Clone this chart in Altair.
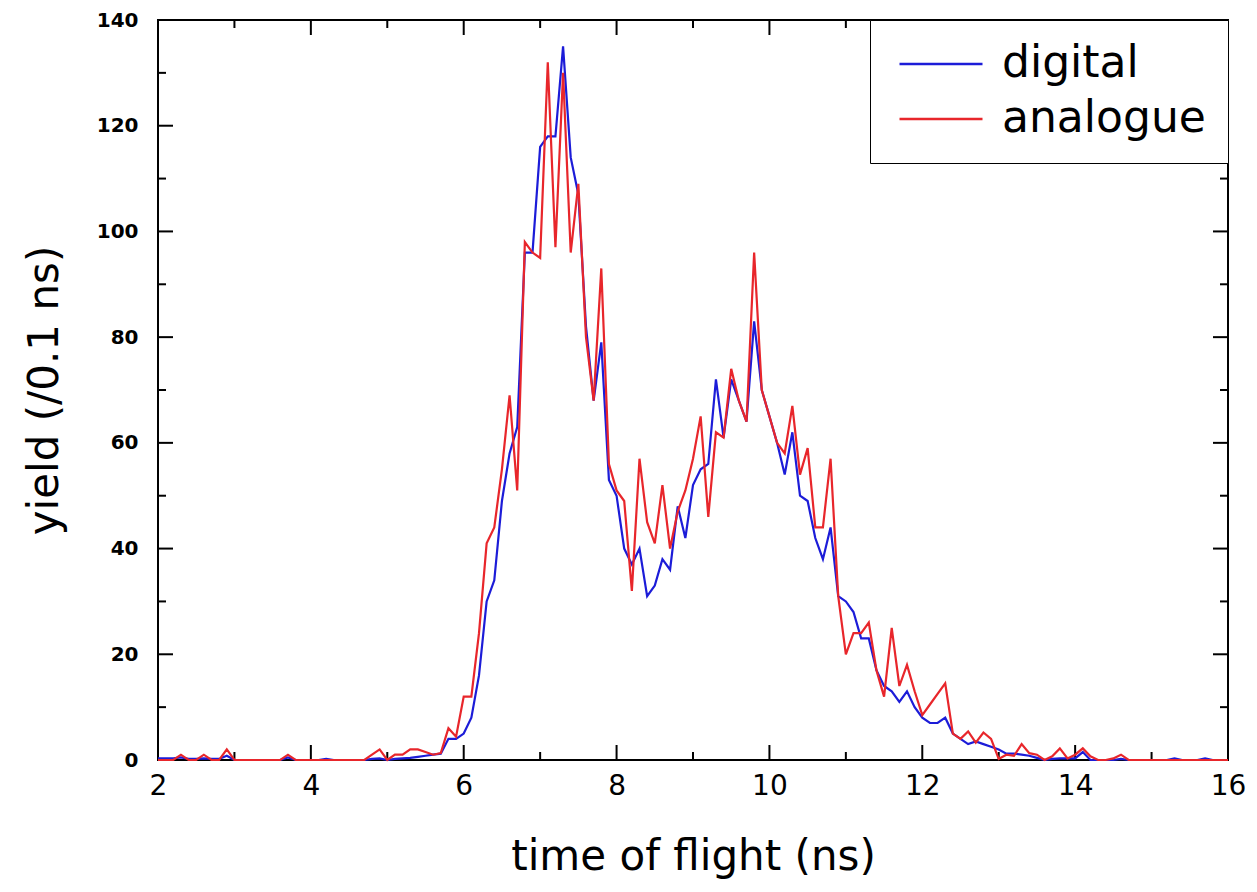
import altair as alt
import pandas as pd

# time bins (ns), 0.1 ns wide
t = [round(2 + 0.1 * i, 1) for i in range(141)]

digital = [
    0.3, 0.3, 0.3, 0.5, 0.2, 0.2, 0.3, 0.2, 0.2, 0.8,
    0, 0, 0, 0, 0, 0, 0, 0.5, 0, 0,
    0, 0, 0.2, 0, 0, 0, 0, 0, 0.2, 0.3,
    0, 0.2, 0.3, 0.4, 0.6, 0.8, 1.0, 1.2, 4, 4,
    5, 8, 16, 30, 34, 49, 58, 63, 96, 96,
    116, 118, 118, 135, 114, 107, 82, 68, 79, 53,
    50, 40, 37, 40, 31, 33, 38, 36, 48, 42,
    52, 55, 56, 72, 61, 72, 68, 64, 83, 70,
    65, 60, 54, 62, 50, 49, 42, 38, 44, 31,
    30, 28, 23, 23, 17, 14, 13, 11, 13, 10,
    8, 7, 7, 8, 5, 4, 3, 3.5, 3, 2.5,
    2, 1.2, 1.2, 1, 0.8, 0.4, 0, 0.2, 0.3, 0.3,
    0.3, 1.5, 0, 0, 0, 0, 0.2, 0, 0, 0,
    0, 0, 0, 0.3, 0, 0, 0, 0.3, 0, 0,
    0,
]

analogue = [
    0, 0, 0, 1, 0, 0, 1, 0, 0, 2,
    0, 0, 0, 0, 0, 0, 0, 1, 0, 0,
    0, 0, 0, 0, 0, 0, 0, 0, 1, 2,
    0, 1, 1, 2, 2, 1.5, 1, 1.3, 6, 4.4,
    12, 12, 24, 41, 44, 55, 69, 51, 98, 96,
    95, 132, 97, 130, 96, 109, 80, 68, 93, 56,
    51, 49, 32, 57, 45, 41, 52, 40, 47, 51,
    57, 65, 46, 62, 61, 74, 68, 64, 96, 70,
    65, 60, 58, 67, 54, 59, 44, 44, 57, 31,
    20, 24, 24, 26, 17, 12, 25, 14, 18, 13,
    8.5, 10.5, 12.5, 14.5, 5, 4, 5.4, 3.3, 5.2, 4,
    0.2, 1, 0.8, 3, 1.3, 1, 0, 0.7, 2.2, 0.3,
    1, 2.2, 0.7, 0, 0, 0.3, 1, 0, 0, 0,
    0, 0, 0, 0, 0, 0, 0, 0, 0, 0,
    0,
]

series_names = ["digital", "analogue"]
series_colors = ["#1c1cd8", "#e8262b"]

x_major = [2, 4, 6, 8, 10, 12, 14, 16]
x_minor = [3, 5, 7, 9, 11, 13, 15]
y_major = [0, 20, 40, 60, 80, 100, 120, 140]
y_minor = [10, 30, 50, 70, 90, 110, 130]

W, H = 1070, 740
MAJ, MIN = 15, 8
FONT = "DejaVu Sans"

df_d = pd.DataFrame({"t": t, "yield": digital, "series": "digital"})
df_a = pd.DataFrame({"t": t, "yield": analogue, "series": "analogue"})

xscale = alt.Scale(domain=[2, 16], nice=False, zero=False)
yscale = alt.Scale(domain=[0, 140], nice=False)

xaxis = alt.Axis(values=x_major, labelFontSize=28, labelFont=FONT, labelPadding=12,
                 labelFlush=False, titleFontSize=42, titleFont=FONT,
                 titleFontWeight="normal", titlePadding=36, domain=False,
                 ticks=False, grid=False, labelColor="black", titleColor="black")
yaxis = alt.Axis(values=y_major, labelFontSize=20, labelFont=FONT,
                 labelFontWeight="bold", labelPadding=20, labelFlush=False,
                 titleFontSize=42, titleFont=FONT, titleFontWeight="normal",
                 titlePadding=30, domain=False, ticks=False, grid=False,
                 labelColor="black", titleColor="black")


def X(field):
    return alt.X(field + ":Q", scale=xscale, axis=xaxis, title="time of flight (ns)")


def Y(field):
    return alt.Y(field + ":Q", scale=yscale, axis=yaxis, title="yield (/0.1 ns)")


color = alt.Color(
    "series:N",
    scale=alt.Scale(domain=series_names, range=series_colors),
    legend=alt.Legend(
        title=None, orient="top-right", offset=0, strokeColor="black",
        fillColor="white", padding=22, symbolType="stroke", symbolSize=6889,
        symbolStrokeWidth=2.5, symbolOffset=6, labelFontSize=44, labelFont=FONT,
        labelOffset=18, rowPadding=11, clipHeight=44, labelColor="black",
        labelLimit=600,
    ),
)

line_d = alt.Chart(df_d).mark_line(strokeWidth=2.2).encode(x=X("t"), y=Y("yield"), color=color)
line_a = alt.Chart(df_a).mark_line(strokeWidth=2.2).encode(x=X("t"), y=Y("yield"), color=color)

xmaj = pd.DataFrame({"t": x_major})
xmin = pd.DataFrame({"t": x_minor})
ymaj = pd.DataFrame({"yield": y_major})
ymin = pd.DataFrame({"yield": y_minor})

rule = dict(color="black", strokeWidth=2)
ticks = [
    alt.Chart(xmaj).mark_rule(**rule).encode(x=X("t"), y=alt.value(H), y2=alt.value(H - MAJ)),
    alt.Chart(xmin).mark_rule(**rule).encode(x=X("t"), y=alt.value(H), y2=alt.value(H - MIN)),
    alt.Chart(xmaj).mark_rule(**rule).encode(x=X("t"), y=alt.value(0), y2=alt.value(MAJ)),
    alt.Chart(xmin).mark_rule(**rule).encode(x=X("t"), y=alt.value(0), y2=alt.value(MIN)),
    alt.Chart(ymaj).mark_rule(**rule).encode(y=Y("yield"), x=alt.value(0), x2=alt.value(MAJ)),
    alt.Chart(ymin).mark_rule(**rule).encode(y=Y("yield"), x=alt.value(0), x2=alt.value(MIN)),
    alt.Chart(ymaj).mark_rule(**rule).encode(y=Y("yield"), x=alt.value(W), x2=alt.value(W - MAJ)),
    alt.Chart(ymin).mark_rule(**rule).encode(y=Y("yield"), x=alt.value(W), x2=alt.value(W - MIN)),
]

chart = alt.layer(*ticks, line_d, line_a).properties(
    width=W, height=H,
    padding={"left": 158, "top": 20, "right": 29, "bottom": 132},
    autosize=alt.AutoSizeParams(type="none"),
    background="white",
).configure_view(stroke="black", strokeWidth=2)

chart.save("out.html", embed_options={"renderer": "svg", "actions": False})
